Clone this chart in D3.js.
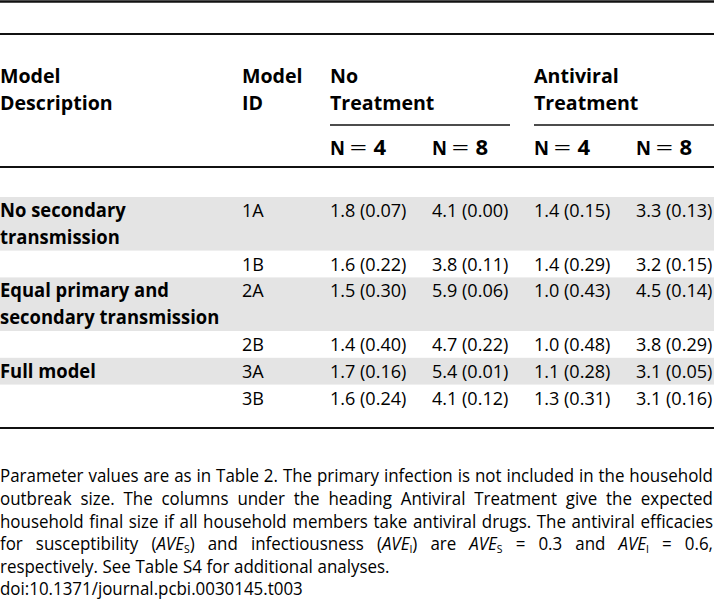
<!DOCTYPE html>
<html><head><meta charset="utf-8">
<script src="https://cdn.jsdelivr.net/npm/d3@7"></script>
<style>body{margin:0;background:#fff}svg{display:block}</style>
</head><body>
<svg id="t" width="714" height="601"></svg>
<script>
// ---- data ----
const descLines = [["No secondary","transmission"],[],["Equal primary and","secondary transmission"],[],["Full model"],[]];
const modelIds = ["1A","1B","2A","2B","3A","3B"];
const shaded = [true,false,true,false,true,false];
const noTreatN4 = [1.8,1.6,1.5,1.4,1.7,1.6];
const noTreatN4Sd = [0.07,0.22,0.30,0.40,0.16,0.24];
const noTreatN8 = [4.1,3.8,5.9,4.7,5.4,4.1];
const noTreatN8Sd = [0.00,0.11,0.06,0.22,0.01,0.12];
const antiN4 = [1.4,1.4,1.0,1.0,1.1,1.3];
const antiN4Sd = [0.15,0.29,0.43,0.48,0.28,0.31];
const antiN8 = [3.3,3.2,4.5,3.8,3.1,3.1];
const antiN8Sd = [0.13,0.15,0.14,0.29,0.05,0.16];
const colHeaders = [["Model","Description"],["Model","ID"],["No","Treatment"],["Antiviral","Treatment"]];
const subHeaders = ["4","8","4","8"];
const captionLines = [
  [["Parameter"],["values"],["are"],["as"],["in"],["Table"],["2."],["The"],["primary"],["infection"],["is"],["not"],["included"],["in"],["the"],["household"]],
  [["outbreak"],["size."],["The"],["columns"],["under"],["the"],["heading"],["Antiviral"],["Treatment"],["give"],["the"],["expected"]],
  [["household"],["final"],["size"],["if"],["all"],["household"],["members"],["take"],["antiviral"],["drugs."],["The"],["antiviral"],["efficacies"]],
  [["for"],["susceptibility"],["(",{i:"AVE"},{s:"S"},")"],["and"],["infectiousness"],["(",{i:"AVE"},{s:"I"},")"],["are"],[{i:"AVE"},{s:"S"}],["="],["0.3"],["and"],[{i:"AVE"},{s:"I"}],["="],["0.6,"]],
  [["respectively."],["See"],["Table"],["S4"],["for"],["additional"],["analyses."]],
  [["doi:10.1371/journal.pcbi.0030145.t003"]]
];
const justified = [true,true,true,true,false,false];

// ---- layout ----
const W = 714;
const FONT = "'Open Sans', 'Noto Sans', sans-serif";
const svg = d3.select("#t");
const fmtM = d3.format(".1f"), fmtS = d3.format(".2f");
const col = d3.scaleOrdinal().domain(["desc","id","nt4","nt8","av4","av8"]).range([0,242,330,432,534,636]);
const lineH = 26.8, bodyTop = 197;
const rowLines = descLines.map(d => Math.max(1, d.length));
const rowTop = []; let acc = bodyTop;
rowLines.forEach(n => { rowTop.push(acc); acc += n*lineH; });

function txt(g, x, y, s, weight, size, sx) {
  return g.append("text").attr("transform", `translate(${x},${y}) scale(${sx},1)`)
    .attr("font-family", FONT).attr("font-size", size).attr("font-weight", weight)
    .attr("fill", "#000").text(s);
}

// shading
svg.append("g").selectAll("rect").data(modelIds.map((d,i)=>i).filter(i=>shaded[i])).join("rect")
  .attr("x",0).attr("width",W).attr("y",i=>rowTop[i]).attr("height",i=>rowLines[i]*lineH).attr("fill","#e4e4e4");

// rules
const rules = [{y:1.5,x1:0,x2:W,w:2.4},{y:34,x1:0,x2:W,w:2},{y:167,x1:0,x2:W,w:2},{y:428,x1:0,x2:W,w:2},
  {y:125,x1:330,x2:510,w:1.7},{y:125,x1:534,x2:W,w:1.7}];
svg.append("g").selectAll("line").data(rules).join("line")
  .attr("x1",d=>d.x1).attr("x2",d=>d.x2).attr("y1",d=>d.y).attr("y2",d=>d.y)
  .attr("stroke","#111").attr("stroke-width",d=>d.w);

// header
const hg = svg.append("g");
colHeaders.forEach((h,k)=>{ const x = col(["desc","id","nt4","av4"][k]);
  txt(hg, x, 83, h[0], 700, 20, 0.98); txt(hg, x, 110, h[1], 700, 20, 0.98); });
["nt4","nt8","av4","av8"].forEach((c,k)=>{
  const x = col(c);
  txt(hg, x, 155, "N", 700, 20, 0.92);
  txt(hg, x+19.5, 155, "=", 400, 20, 1.55);
  txt(hg, x+43.5, 155, subHeaders[k], 700, 21, 1.05);
});

// body
const bg = svg.append("g");
const series = [["nt4",noTreatN4,noTreatN4Sd],["nt8",noTreatN8,noTreatN8Sd],["av4",antiN4,antiN4Sd],["av8",antiN8,antiN8Sd]];
modelIds.forEach((id,i)=>{
  const base = rowTop[i] + 20;
  descLines[i].forEach((l,j)=> txt(bg, col("desc"), base + j*lineH, l, 700, 19, 0.97));
  txt(bg, col("id"), base, id, 400, 19, 0.95);
  series.forEach(([c,m,s])=> txt(bg, col(c), base, `${fmtM(m[i])} (${fmtS(s[i])})`, 400, 19, 0.95));
});

// caption
const cg = svg.append("g");
const capTop = 482.5, capH = 22.6, CSX = 0.91, CFS = 18.6;
captionLines.forEach((words,li)=>{
  const y = capTop + li*capH;
  const nodes = words.map(w=>{
    const t = cg.append("text").attr("y",y).attr("font-family",FONT).attr("font-size",CFS).attr("fill","#000");
    let shifted = false;
    w.forEach(r=>{
      if (typeof r === "string") { const sp = t.append("tspan").text(r); if (shifted) { sp.attr("dy",-2.5); shifted=false; } }
      else if (r.i) t.append("tspan").attr("font-style","italic").text(r.i);
      else if (r.s) { t.append("tspan").attr("font-size",11.5).attr("dy",2.5).text(r.s); shifted = true; }
    });
    return t;
  });
  const widths = nodes.map(n=>n.node().getComputedTextLength()*CSX);
  const total = d3.sum(widths);
  const gap = justified[li] && nodes.length>1 ? (W-1-total)/(nodes.length-1) : CFS*0.25;
  let x = 0;
  nodes.forEach((n,k)=>{ n.attr("transform",`translate(${x},0) scale(${CSX},1)`); x += widths[k]+gap; });
});
</script>
</body></html>
